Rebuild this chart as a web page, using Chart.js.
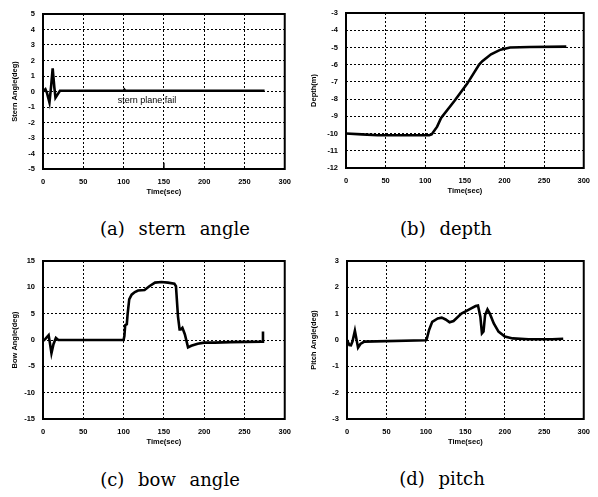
<!doctype html>
<html lang="en">
<head>
<meta charset="utf-8">
<title>Stern plane failure response</title>
<style>
  body { margin: 0; background: #fff; }
  .wrap { position: relative; width: 598px; height: 497px; overflow: hidden; }
  .panel { position: absolute; }
  .cap {
    position: absolute;
    transform: translate(-50%, -50%);
    font-family: "DejaVu Serif", serif;
    font-size: 18px;
    word-spacing: 8px;
    white-space: nowrap;
    color: #000;
  }
</style>
</head>
<body>
<div class="wrap">
  <canvas id="c1" class="panel" width="299" height="200" style="left:0;top:0"></canvas>
  <canvas id="c2" class="panel" width="299" height="200" style="left:299px;top:0"></canvas>
  <canvas id="c3" class="panel" width="299" height="200" style="left:0;top:248px"></canvas>
  <canvas id="c4" class="panel" width="299" height="200" style="left:299px;top:248px"></canvas>
  <div class="cap" style="left:175px;top:228px">(a) stern angle</div>
  <div class="cap" style="left:446px;top:228px">(b) depth</div>
  <div class="cap" style="left:170px;top:479px">(c) bow angle</div>
  <div class="cap" style="left:442px;top:478px">(d) pitch</div>
</div>

<script src="https://cdn.jsdelivr.net/npm/chart.js"></script>
<script>
// time (sec) and values
const sternT = [0, 3, 5, 8, 10, 12, 14, 15.5, 18, 21, 25, 100, 101, 102, 200, 275];
const sternV = [0, 0.15, -0.1, -0.7, 0.3, 1.5, 0.3, -0.4, -0.2, 0.05, 0.05, 0.05, 0.12, 0.05, 0.05, 0.05];
const sternMarkT = [150, 150];
const sternMarkV = [-5, -4.6];
const sternNote = 'stern plane fail';
const sternNoteT = 129;
const sternNoteV = -0.6;

const depthT = [0, 20, 40, 105, 108, 115, 120, 137, 153, 168, 172, 183, 195, 207, 232, 278];
const depthV = [-10.0, -10.05, -10.1, -10.1, -10.05, -9.6, -9.1, -8.1, -7.1, -6.0, -5.8, -5.4, -5.13, -5.0, -4.97, -4.95];

const bowT = [0, 3, 7, 8.5, 10.5, 13, 16, 19, 22, 100, 101, 102, 104, 105, 107, 110, 114, 118, 126, 132, 139, 147, 155, 163, 165, 167.5, 169.5, 171, 173, 176, 180, 184, 192, 200, 213, 233, 272, 273];
const bowV = [-0.2, 0.2, 0.9, -0.5, -2.5, -0.8, 0.4, 0, 0, 0, 0.75, 2.8, 3.0, 4.9, 7.7, 8.6, 9.1, 9.4, 9.5, 10.2, 10.9, 11.0, 10.9, 10.7, 10.2, 4.5, 2.0, 2.0, 2.3, 1.1, -1.4, -1.1, -0.7, -0.5, -0.5, -0.4, -0.3, 1.6];

const pitchT = [0, 3, 5, 7, 10, 14, 17, 22, 100, 101, 104, 108, 115, 120, 125, 130, 135, 145, 155, 163, 166, 169, 171, 173, 175, 178, 181, 186, 192, 200, 210, 230, 260, 274];
const pitchV = [0, -0.19, -0.2, -0.05, 0.35, -0.29, -0.15, -0.06, -0.01, 0.03, 0.38, 0.69, 0.82, 0.85, 0.78, 0.67, 0.72, 1.0, 1.16, 1.29, 1.31, 0.88, 0.25, 0.32, 0.95, 1.16, 1.0, 0.63, 0.32, 0.13, 0.06, 0.03, 0.03, 0.05];

const xTitle = 'Time(sec)';
const tickFont = { family: 'Liberation Sans', size: 7.5, weight: 'bold' };

// black box around the plot area
const frame = {
  id: 'frame',
  afterDraw(chart) {
    const a = chart.chartArea, ctx = chart.ctx;
    ctx.save();
    ctx.strokeStyle = '#000';
    ctx.lineWidth = 2;
    ctx.strokeRect(a.left, a.top, a.right - a.left, a.bottom - a.top);
    ctx.restore();
  }
};

function pts(t, v) {
  return t.map((x, i) => ({ x: x, y: v[i] }));
}

function makePanel(id, area, yMin, yMax, yStep, yTitle, t, v, extra, plugins) {
  const canvas = document.getElementById(id);
  const W = canvas.width, H = canvas.height;
  const xAxisH = 27;
  const datasets = [{ data: pts(t, v), borderColor: '#000', borderWidth: 2.6, pointRadius: 0, tension: 0 }];
  (extra || []).forEach(d => datasets.push(d));
  return new Chart(canvas, {
    type: 'line',
    data: { datasets: datasets },
    options: {
      responsive: false,
      animation: false,
      layout: { padding: { left: 0, top: area.top, right: W - area.right, bottom: H - area.bottom - xAxisH } },
      plugins: { legend: { display: false }, tooltip: { enabled: false } },
      scales: {
        x: {
          type: 'linear', min: 0, max: 300,
          afterFit: s => { s.height = xAxisH; },
          ticks: { stepSize: 50, padding: 8, color: '#000', font: tickFont, maxRotation: 0 },
          grid: { color: '#000', lineWidth: 1, drawTicks: false },
          border: { display: false, dash: [2, 2] },
          title: { display: true, text: xTitle, color: '#000', font: tickFont, padding: 0 }
        },
        y: {
          min: yMin, max: yMax,
          afterFit: s => { s.width = area.left; },
          ticks: { stepSize: yStep, padding: 8, color: '#000', font: tickFont },
          grid: { color: '#000', lineWidth: 1, drawTicks: false },
          border: { display: false, dash: [2, 2] },
          title: { display: true, text: yTitle, color: '#000', font: tickFont, padding: { top: 10, bottom: 0 } }
        }
      }
    },
    plugins: [frame].concat(plugins || [])
  });
}

const note = {
  id: 'note',
  afterDatasetsDraw(chart) {
    const ctx = chart.ctx;
    ctx.save();
    ctx.fillStyle = '#000';
    ctx.font = '9px "Liberation Sans"';
    ctx.textAlign = 'center';
    ctx.textBaseline = 'middle';
    ctx.fillText(sternNote, chart.scales.x.getPixelForValue(sternNoteT), chart.scales.y.getPixelForValue(sternNoteV));
    ctx.restore();
  }
};

makePanel('c1', { left: 43, right: 288, top: 14, bottom: 169 }, -5, 5, 1, 'Stern Angle(deg)', sternT, sternV,
  [{ data: pts(sternMarkT, sternMarkV), borderColor: '#000', borderWidth: 1.5, pointRadius: 0 }], [note]);
makePanel('c2', { left: 47, right: 290, top: 13, bottom: 168 }, -12, -3, 1, 'Depth(m)', depthT, depthV);
makePanel('c3', { left: 43, right: 289, top: 13, bottom: 171 }, -15, 15, 5, 'Bow Angle(deg)', bowT, bowV);
makePanel('c4', { left: 48, right: 293, top: 13, bottom: 171 }, -3, 3, 1, 'Pitch Angle(deg)', pitchT, pitchV);
</script>
</body>
</html>
